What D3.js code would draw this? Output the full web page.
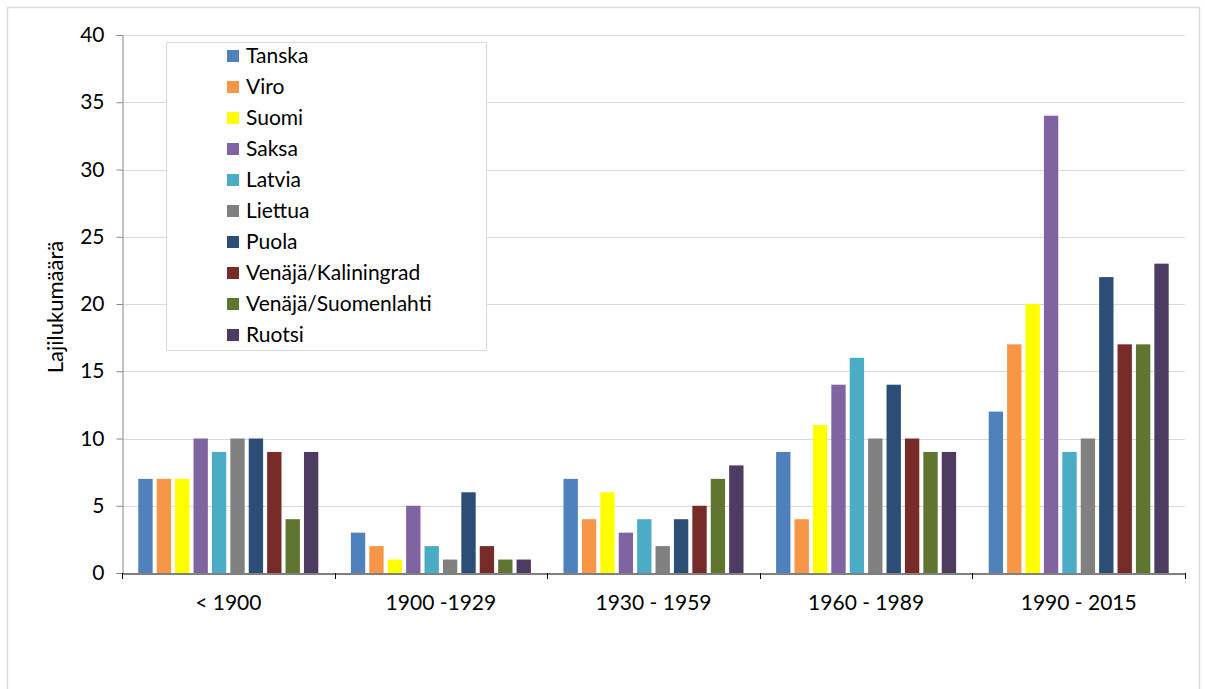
<!DOCTYPE html>
<html>
<head>
<meta charset="utf-8">
<script src="https://cdn.jsdelivr.net/npm/d3@7"></script>
<style>
html,body{margin:0;padding:0;background:#fff;}
svg text{font-family:Lato,"Open Sans",sans-serif;fill:#000;}
</style>
</head>
<body>
<svg id="chart" width="1205" height="689"></svg>
<script>
const categories = ["< 1900", "1900 -1929", "1930 - 1959", "1960 - 1989", "1990 - 2015"];
const seriesNames = ["Tanska","Viro","Suomi","Saksa","Latvia","Liettua","Puola","Venäjä/Kaliningrad","Venäjä/Suomenlahti","Ruotsi"];
const seriesColors = ["#4F81BD","#F79646","#FFFF00","#8064A2","#4BACC6","#808080","#2C4D75","#772C2A","#5F7530","#4D3B62"];
const Tanska = [7,3,7,9,12];
const Viro = [7,2,4,4,17];
const Suomi = [7,1,6,11,20];
const Saksa = [10,5,3,14,34];
const Latvia = [9,2,4,16,9];
const Liettua = [10,1,2,10,10];
const Puola = [10,6,4,14,22];
const Kaliningrad = [9,2,5,10,17];
const Suomenlahti = [4,1,7,9,17];
const Ruotsi = [9,1,8,9,23];
const yTicks = [0,5,10,15,20,25,30,35,40];
const yTitle = "Lajilukumäärä";

const seriesValues = [Tanska,Viro,Suomi,Saksa,Latvia,Liettua,Puola,Kaliningrad,Suomenlahti,Ruotsi];

(function(){
const svg = d3.select("#chart");
svg.append("rect").attr("x",7.5).attr("y",7.5).attr("width",1192).attr("height",700)
  .attr("fill","none").attr("stroke","#d9d9d9").attr("stroke-width",1.5);

const pL = 122, pR = 1185, pT = 35, pB = 573;
const y = d3.scaleLinear().domain([0,40]).range([pB, pT]);
const x0 = d3.scaleBand().domain(categories).range([pL, pR]).padding(0);
const x1 = d3.scaleBand().domain(seriesNames).range([0, x0.bandwidth()]).paddingInner(0.22).paddingOuter(0.885);

svg.append("g").selectAll("line").data(yTicks.filter(d=>d>0)).join("line")
  .attr("x1",pL).attr("x2",pR).attr("y1",d=>Math.round(y(d))+0.5).attr("y2",d=>Math.round(y(d))+0.5)
  .attr("stroke","#d9d9d9").attr("stroke-width",1);

const yAxis = svg.append("g").attr("transform",`translate(${pL+0.5},0)`)
  .call(d3.axisLeft(y).tickValues(yTicks).tickSize(6).tickPadding(12));
yAxis.select(".domain").attr("stroke","#868686");
yAxis.selectAll(".tick line").attr("stroke","#868686");
yAxis.selectAll("text").style("font-size","21px").attr("fill","#000");

const groups = svg.append("g").selectAll("g").data(categories).join("g")
  .attr("transform",d=>`translate(${x0(d)},0)`);
groups.selectAll("rect").data((d,i)=>seriesNames.map((s,j)=>({s, v: seriesValues[j][i], c: seriesColors[j]})))
  .join("rect")
  .attr("x",d=>x1(d.s)).attr("width",x1.bandwidth())
  .attr("y",d=>y(d.v)).attr("height",d=>y(0)-y(d.v))
  .attr("fill",d=>d.c);

const xAxis = svg.append("g").attr("transform",`translate(0,${pB+0.5})`)
  .call(d3.axisBottom(x0).tickSize(0).tickPadding(22));
xAxis.select(".domain").attr("stroke","#000");
xAxis.selectAll("text").style("font-size","21px").attr("fill","#000");
svg.append("g").selectAll("line").data(d3.range(categories.length+1)).join("line")
  .attr("x1",i=>Math.round(pL + i*x0.bandwidth())+0.5).attr("x2",i=>Math.round(pL + i*x0.bandwidth())+0.5)
  .attr("y1",pB).attr("y2",pB+6).attr("stroke","#000");

svg.append("text").attr("transform",`translate(63,${(pT+pB)/2 + 3}) rotate(-90)`)
  .attr("text-anchor","middle").style("font-size","22px").text(yTitle);

const lg = svg.append("g");
lg.append("rect").attr("x",166.5).attr("y",42.5).attr("width",320).attr("height",308)
  .attr("fill","#fff").attr("stroke","#d9d9d9");
const items = lg.selectAll("g.item").data(seriesNames).join("g").attr("class","item")
  .attr("transform",(d,i)=>`translate(227,${56 + i*31})`);
items.append("rect").attr("x",0).attr("y",-6).attr("width",12).attr("height",12)
  .attr("fill",(d,i)=>seriesColors[i]);
items.append("text").attr("x",19).attr("y",0).attr("dy","0.35em").style("font-size","21px").text(d=>d);
})();
</script>
</body>
</html>
